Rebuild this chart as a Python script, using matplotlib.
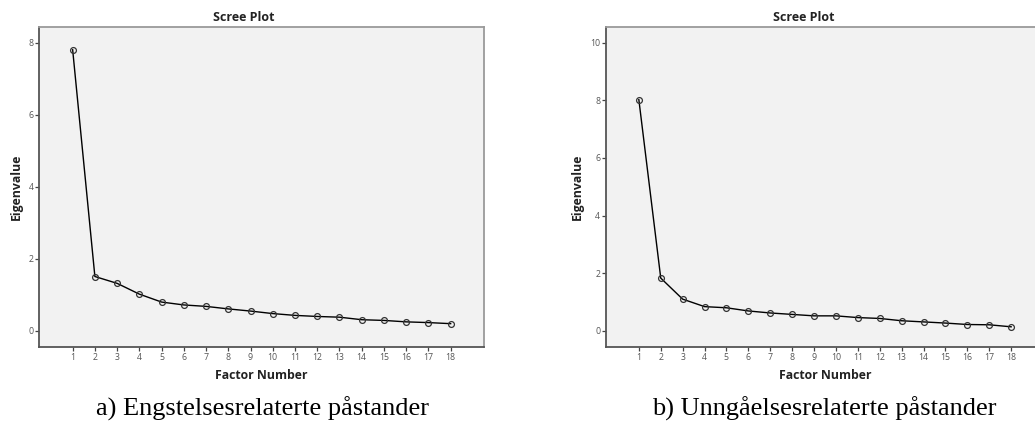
import matplotlib.pyplot as plt
import numpy as np

# Scree plot data (eigenvalues)
factors = np.arange(1, 19)
eigen_a = [7.81, 1.51, 1.32, 1.02, 0.80, 0.72, 0.68, 0.61, 0.55, 0.48,
           0.43, 0.40, 0.38, 0.31, 0.29, 0.25, 0.23, 0.20]
eigen_b = [8.02, 1.83, 1.10, 0.84, 0.80, 0.69, 0.62, 0.57, 0.52, 0.52,
           0.46, 0.43, 0.35, 0.31, 0.27, 0.22, 0.21, 0.14]
captions = ["a) Engstelsesrelaterte påstander", "b) Unngåelsesrelaterte påstander"]
yticks_a = [0, 2, 4, 6, 8]
yticks_b = [0, 2, 4, 6, 8, 10]

W, H = 1035, 430
fig = plt.figure(figsize=(W / 100, H / 100), dpi=100)

SANS = ["Open Sans", "DejaVu Sans"]


def px(x, y):
    # pixel coords (top-left origin) -> figure fraction
    return x / W, 1 - y / H


def scree(ax, values, yticks, ylim):
    ax.set_facecolor("#f2f2f2")
    ax.plot(factors, values, color="black", linewidth=1.0, zorder=2)
    ax.plot(factors, values, linestyle="none", marker="o", markersize=4.2,
            markerfacecolor="none", markeredgecolor="#333333",
            markeredgewidth=0.9, zorder=3)
    ax.set_xlim(-0.5, 19.5)
    ax.set_ylim(*ylim)
    ax.set_xticks(factors)
    ax.set_yticks(yticks)
    for lbl in ax.get_xticklabels() + ax.get_yticklabels():
        lbl.set_fontfamily(SANS)
    ax.tick_params(axis="both", direction="out", length=3, width=0.9,
                   colors="#444444", labelsize=6.3, labelcolor="#555555")
    ax.tick_params(axis="x", pad=1.8)
    ax.tick_params(axis="y", pad=1.2)
    for side in ("left", "bottom"):
        ax.spines[side].set_color("#555555")
        ax.spines[side].set_linewidth(1.3)
    for side in ("top", "right"):
        ax.spines[side].set_color("#9a9a9a")
        ax.spines[side].set_linewidth(1.3)


# left panel
axL = fig.add_axes([39.3 / W, 1 - 346.7 / H, (484 - 39.3) / W, 320 / H])
scree(axL, eigen_a, yticks_a, (-0.44, 8.45))

# right panel (runs past the right edge in the original)
axR = fig.add_axes([606 / W, 1 - 346.7 / H, (1044 - 606) / W, 320 / H])
scree(axR, eigen_b, yticks_b, (-0.55, 10.55))

title_kw = dict(fontsize=9, fontweight="bold", family=SANS, color="#222222",
                ha="center", va="center")
label_kw = dict(title_kw, fontsize=8.8)

fig.text(*px(244, 17.3), "Scree Plot", **title_kw)
fig.text(*px(804, 17.3), "Scree Plot", **title_kw)

fig.text(*px(261.7, 375.7), "Factor Number", **label_kw)
fig.text(*px(825, 375.7), "Factor Number", **label_kw)

fig.text(*px(16, 186.7), "Eigenvalue", rotation=90, **label_kw)
fig.text(*px(577, 186.7), "Eigenvalue", rotation=90, **label_kw)

cap_kw = dict(fontsize=19, family=["Liberation Serif", "DejaVu Serif"],
              color="black", ha="center", va="center")
fig.text(*px(262.5, 409), captions[0], **cap_kw)
fig.text(*px(824, 409), captions[1], **cap_kw)

fig.savefig("out.png", dpi=100, facecolor="white")
